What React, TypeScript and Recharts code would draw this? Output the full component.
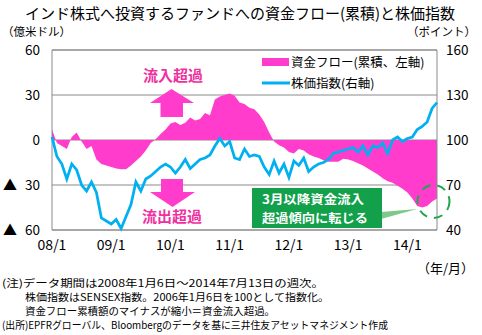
import React from "react";
import {
  ComposedChart,
  Area,
  Line,
  XAxis,
  YAxis,
  CartesianGrid,
  ReferenceArea,
} from "recharts";

const FONT = '"Noto Sans CJK JP", "Noto Sans", sans-serif';
const PINK = "#ff3ccc";
const PINK_TEXT = "#f0309f";
const BLUE = "#00b0f0";
const GREEN = "#12a04a";
const GRID = "#8a8a8a";

// monthly points, 2008/1 .. 2014/7
const MONTHS: string[] = [];
for (let i = 0; i < 79; i++) {
  const yy = String(8 + Math.floor(i / 12)).padStart(2, "0");
  MONTHS.push(`${yy}/${(i % 12) + 1}`);
}

// cumulative fund flow (億米ドル, left axis)
const FLOW = [
  7, -2, -4, -6, 2, 5, -1, -6, -4, -13,
  -16, -17, -18, -19, -19.5, -19.5, -17, -14, -11, -7,
  -2, 0.5, 4, 7, 11, 12, 10, 11.5, 15, 13,
  14, 18, 16.5, 27, 29, 30, 31, 29.5, 25, 24,
  21.5, 20.5, 17, 12, 5, -1, -3.5, -5, -8, -9,
  -6, -7, -9.5, -11, -12, -13.5, -14.5, -14.5, -14.5, -12.5,
  -13, -14, -15.5, -17, -19, -21, -23, -25.5, -27.5, -28.5,
  -30.5, -32.5, -35, -39, -44, -45, -44, -41, -39,
];

// SENSEX index (right axis)
const INDEX = [
  102, 89, 84, 74, 84, 80, 70, 66, 72, 65,
  48, 46, 44, 47, 41, 49, 57, 72, 66, 74,
  76, 79, 82, 84, 82, 78, 82, 87, 81, 84,
  87, 88, 90, 96, 101, 96, 99, 88, 87, 94,
  89, 90, 89, 82, 77, 86, 78, 84, 75, 86,
  83, 88, 79, 82, 84, 85, 87, 91, 92, 93,
  94, 95, 92, 96, 90, 96, 95, 98, 91, 100,
  102, 99, 101, 102, 107, 109, 112, 121, 125,
];

const LEFT_TICKS = [-60, -30, 0, 30, 60];
const RIGHT_TICKS = [40, 70, 100, 130, 160];

// note lines: text, left x, width
const NOTES: [string, number, number][] = [
  ["(注)データ期間は2008年1月6日～2014年7月13日の週次。", 2, 322],
  ["株価指数はSENSEX指数。2006年1月6日を100として指数化。", 25, 304],
  ["資金フロー累積額のマイナスが縮小＝資金流入超過。", 25, 250],
  ["(出所)EPFRグローバル、Bloombergのデータを基に三井住友アセットマネジメント作成", 2, 386],
];

const data = MONTHS.map((m, i) => ({ month: m, flow: FLOW[i], index: INDEX[i] }));

const LeftTick = (props: any) => {
  const { y, payload } = props;
  const v = payload.value as number;
  return (
    <g fontFamily={FONT} fill="#000">
      {v < 0 && (
        <text x={3} y={y + 5} fontSize={14}>
          ▲
        </text>
      )}
      <text x={40} y={y + 5} fontSize={13.5} textAnchor="end">
        {Math.abs(v)}
      </text>
    </g>
  );
};

const RightTick = (props: any) => {
  const { y, payload } = props;
  return (
    <text x={446} y={y + 5} fontSize={13.5} fontFamily={FONT} fill="#000">
      {payload.value}
    </text>
  );
};

const BottomTick = (props: any) => {
  const { x, payload } = props;
  return (
    <text x={x} y={250} fontSize={14} textAnchor="middle" fontFamily={FONT} fill="#000">
      {payload.value}
    </text>
  );
};

export default function App() {
  return (
    <div style={{ position: "absolute", left: 0, top: 0, width: 482, height: 335, background: "#fff" }}>
      <ComposedChart
        width={482}
        height={335}
        data={data}
        margin={{ top: 50, right: 5, bottom: 85, left: 8 }}
      >
        <CartesianGrid yAxisId="left" vertical={false} stroke={GRID} />
        <XAxis
          dataKey="month"
          interval={11}
          axisLine={false}
          tickLine={false}
          height={20}
          tick={<BottomTick />}
        />
        <YAxis
          yAxisId="left"
          domain={[-60, 60]}
          ticks={LEFT_TICKS}
          width={44}
          axisLine={false}
          tickLine={false}
          tick={<LeftTick />}
        />
        <YAxis
          yAxisId="right"
          orientation="right"
          domain={[40, 160]}
          ticks={RIGHT_TICKS}
          width={40}
          axisLine={false}
          tickLine={false}
          tick={<RightTick />}
        />
        <Area
          yAxisId="left"
          type="linear"
          dataKey="flow"
          baseValue={0}
          fill={PINK}
          fillOpacity={1}
          stroke="none"
          isAnimationActive={false}
        />
        <Line
          yAxisId="right"
          type="linear"
          dataKey="index"
          stroke={BLUE}
          strokeWidth={2.75}
          dot={false}
          isAnimationActive={false}
        />
        <ReferenceArea
          yAxisId="left"
          x1={MONTHS[0]}
          x2={MONTHS[MONTHS.length - 1]}
          y1={-60}
          y2={60}
          fill="none"
          stroke={GRID}
          strokeWidth={1}
        />
      </ComposedChart>

      <svg
        width={482}
        height={335}
        style={{ position: "absolute", left: 0, top: 0, pointerEvents: "none" }}
        fontFamily={FONT}
      >
        <text x={240} y={19} fontSize={15} textAnchor="middle" fill="#000">
          インド株式へ投資するファンドへの資金フロー(累積)と株価指数
        </text>
        <text x={2} y={36} fontSize={11.5} fill="#000">（億米ドル）</text>
        <text x={476} y={36} fontSize={11.5} textAnchor="end" fill="#000">（ポイント）</text>

        {/* legend */}
        <rect x={262} y={58} width={27} height={8} fill={PINK} />
        <text x={291} y={67} fontSize={12.5} fill="#000">資金フロー(累積、左軸)</text>
        <line x1={262} y1={83} x2={290} y2={83} stroke={BLUE} strokeWidth={3} />
        <text x={291} y={88} fontSize={12.5} fill="#000">株価指数(右軸)</text>

        {/* inflow / outflow arrows */}
        <text x={173} y={81} fontSize={15} fontWeight={700} textAnchor="middle" fill={PINK_TEXT}>
          流入超過
        </text>
        <polygon points="171.5,89 194,103 183,103 183,117 160.5,117 160.5,103 150,103" fill={PINK} />
        <polygon points="161,179 183,179 183,192 195,192 172.5,207 150,192 161,192" fill={PINK} />
        <text x={172} y={222} fontSize={15} fontWeight={700} textAnchor="middle" fill={PINK_TEXT}>
          流出超過
        </text>

        {/* callout */}
        <polygon points="381,212 381,219 417,209" fill="#7cc98a" />
        <rect x={252} y={188} width={130} height={40} fill={GREEN} />
        <text x={262} y={204} fontSize={12.3} fontWeight={700} fill="#fff" textLength={102} lengthAdjust="spacingAndGlyphs">3月以降資金流入</text>
        <text x={262} y={222.5} fontSize={12.3} fontWeight={700} fill="#fff" textLength={106} lengthAdjust="spacingAndGlyphs">超過傾向に転じる</text>
        <ellipse cx={433.5} cy={201.5} rx={16} ry={16.5} fill="none" stroke="#1fa84a" strokeWidth={2} strokeDasharray="9 7" />

        <text x={474} y={273} fontSize={13} textAnchor="end" fill="#000">（年/月）</text>
        {NOTES.map(([n, x, w], i) => (
          <text
            key={i}
            x={x}
            y={287 + i * 14}
            fontSize={10.3}
            textLength={w}
            lengthAdjust="spacingAndGlyphs"
            fill="#000"
          >
            {n}
          </text>
        ))}
      </svg>
    </div>
  );
}
